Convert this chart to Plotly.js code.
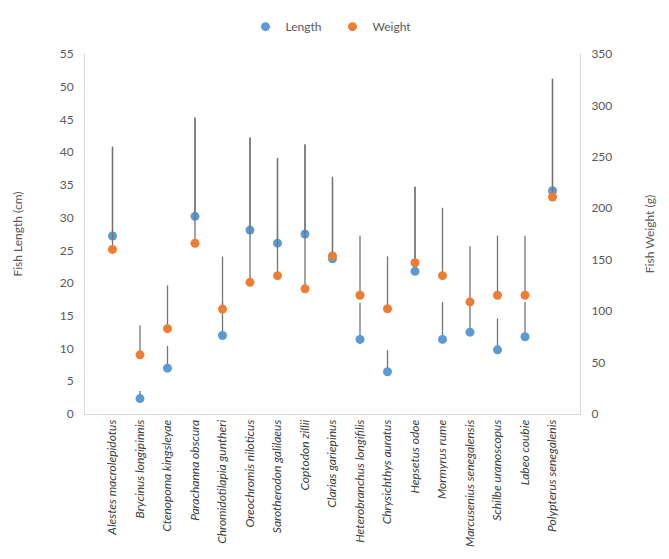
<!DOCTYPE html>
<html>
<head>
<meta charset="utf-8">
<script src="https://cdn.plot.ly/plotly-3.0.1.min.js"></script>
<style>
  html, body { margin: 0; padding: 0; background: #fff; }
  #plot { width: 669px; height: 559px; }
</style>
</head>
<body>
<div id="plot"></div>
<script>
// Species (x categories)
const species = [
    'Alestes macrolepidotus', 'Brycinus longipinnis', 'Ctenopoma kingsleyae',
    'Parachanna obscura', 'Chromidotilapia guntheri', 'Oreochromis niloticus',
    'Sarotherodon galilaeus', 'Coptodon zillii', 'Clarias gariepinus',
    'Heterobranchus longifilis', 'Chrysichthys auratus', 'Hepsetus odoe',
    'Mormyrus rume', 'Marcusenius senegalensis', 'Schilbe uranoscopus',
    'Labeo coubie', 'Polypterus senegalenis'
];

// Length (cm) and upper error
const lengthCm  = [27.2, 2.35, 7.0, 30.2, 12.0, 28.1, 26.1, 27.5, 23.7, 11.4, 6.45, 21.8, 11.4, 12.5, 9.8, 11.8, 34.1];
const lengthErr = [13.6, 1.15, 3.4, 15.1, 5.0, 14.1, 13.0, 13.7, 12.5, 5.6, 3.3, 12.9, 5.7, 4.0, 4.8, 5.3, 17.1];

// Weight (g) and upper error
const weightG   = [160, 57.5, 83, 166, 102, 128, 134.5, 121.7, 153.7, 115.4, 102.3, 147, 134.5, 109, 115.4, 115.4, 211];
const weightErr = [100, 28.5, 42, 122, 51, 141, 114, 140, 77, 58, 51, 74, 66, 54, 58, 58, 115];

const blue = '#5B9BD5';
const orange = '#ED7D31';
const barColor = '#737373';
const textColor = '#595959';
const axisColor = '#d9d9d9';

function errBars(arr) {
    return {
        type: 'data', symmetric: false, array: arr,
        arrayminus: arr.map(() => 0),
        color: barColor, thickness: 1.3, width: 0
    };
}

// error bars first, so markers sit on top of them
const lenBars = {
    x: species, y: lengthCm, type: 'scatter', mode: 'markers',
    marker: { size: 1, color: 'rgba(0,0,0,0)' },
    error_y: errBars(lengthErr), showlegend: false, hoverinfo: 'skip'
};
const wtBars = {
    x: species, y: weightG, yaxis: 'y2', type: 'scatter', mode: 'markers',
    marker: { size: 1, color: 'rgba(0,0,0,0)' },
    error_y: errBars(weightErr), showlegend: false, hoverinfo: 'skip'
};
const lenPts = {
    x: species, y: lengthCm, type: 'scatter', mode: 'markers', name: 'Length',
    marker: { size: 9, color: blue, line: { width: 0 } }
};
const wtPts = {
    x: species, y: weightG, yaxis: 'y2', type: 'scatter', mode: 'markers', name: 'Weight',
    marker: { size: 9, color: orange, line: { width: 0 } }
};

const layout = {
    width: 669, height: 559,
    margin: { l: 85, r: 89, t: 46, b: 145 },
    paper_bgcolor: '#fff', plot_bgcolor: '#fff',
    font: { family: 'Lato, "Open Sans", sans-serif', size: 12, color: textColor },
    showlegend: true,
    legend: {
        orientation: 'h', x: 0.5, xanchor: 'center', y: 1.076, yanchor: 'middle',
        font: { size: 12, color: textColor }, itemwidth: 30,
        entrywidth: 42, entrywidthmode: 'pixels'
    },
    xaxis: {
        type: 'category', categoryorder: 'array', categoryarray: species,
        range: [-1, 17], tickangle: -90, showgrid: false,
        showline: true, linecolor: axisColor, linewidth: 1, ticks: '',
        tickfont: { size: 12, style: 'italic', color: '#404040' },
        zeroline: false, fixedrange: true
    },
    yaxis: {
        range: [0, 55], dtick: 5, showgrid: false, zeroline: false,
        showline: true, linecolor: axisColor, linewidth: 1, ticks: '',
        ticklabelstandoff: 8,
        tickfont: { size: 12, color: textColor },
        title: { text: 'Fish Length (cm)', font: { size: 12, color: textColor }, standoff: 34 }
    },
    yaxis2: {
        overlaying: 'y', side: 'right', range: [0, 350], dtick: 50,
        showgrid: false, zeroline: false,
        showline: true, linecolor: axisColor, linewidth: 1, ticks: '',
        ticklabelstandoff: 8,
        tickfont: { size: 12, color: textColor },
        title: { text: 'Fish Weight (g)', font: { size: 12, color: textColor }, standoff: 34 }
    }
};

Plotly.newPlot('plot', [lenBars, wtBars, lenPts, wtPts], layout, { displayModeBar: false, staticPlot: true });
</script>
</body>
</html>
